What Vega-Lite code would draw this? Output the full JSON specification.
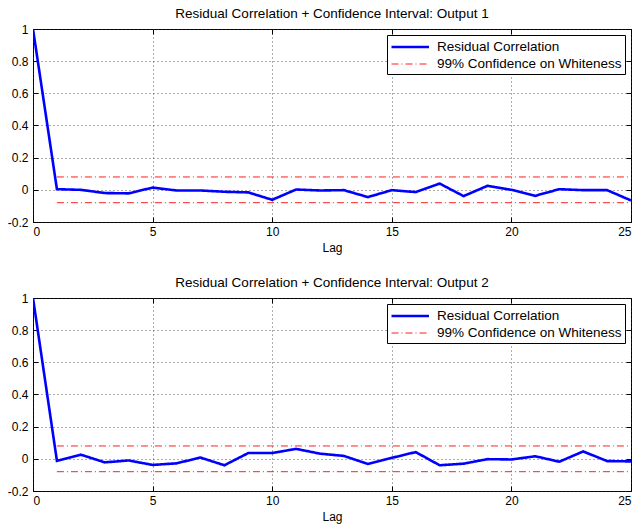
{
  "$schema": "https://vega.github.io/schema/vega-lite/v6.json",
  "background": "white",
  "padding": {"left": 6, "top": 6, "right": 6, "bottom": 2},
  "spacing": 21,
  "config": {
    "font": "Liberation Sans",
    "view": {"stroke": "black", "strokeWidth": 1},
    "axis": {"domain": false, "labelColor": "black", "titleColor": "black", "labelFontSize": 12, "titleFontSize": 12, "titleFontWeight": "normal", "tickColor": "black", "gridColor": "#333", "gridDash": [1, 3], "gridOpacity": 0.8},
    "title": {"fontSize": 13.5, "fontWeight": "normal", "color": "black", "offset": 3, "frame": "group", "anchor": "middle"},
    "legend": {"orient": "top-right", "offset": 6, "strokeColor": "black", "fillColor": "white", "padding": 3, "labelFontSize": 13.5, "labelColor": "black", "symbolType": "M-1,0H4", "symbolSize": 225, "labelOffset": 29, "labelLimit": 400, "rowPadding": 2, "cornerRadius": 0}
  },
  "datasets": {
    "out1": [
      {"lag": 0, "value": 1, "series": "Residual Correlation", "bound": "r"},
      {"lag": 1, "value": 0.004, "series": "Residual Correlation", "bound": "r"},
      {"lag": 2, "value": 0.0, "series": "Residual Correlation", "bound": "r"},
      {"lag": 3, "value": -0.02, "series": "Residual Correlation", "bound": "r"},
      {"lag": 4, "value": -0.022, "series": "Residual Correlation", "bound": "r"},
      {"lag": 5, "value": 0.014, "series": "Residual Correlation", "bound": "r"},
      {"lag": 6, "value": -0.004, "series": "Residual Correlation", "bound": "r"},
      {"lag": 7, "value": -0.004, "series": "Residual Correlation", "bound": "r"},
      {"lag": 8, "value": -0.012, "series": "Residual Correlation", "bound": "r"},
      {"lag": 9, "value": -0.016, "series": "Residual Correlation", "bound": "r"},
      {"lag": 10, "value": -0.062, "series": "Residual Correlation", "bound": "r"},
      {"lag": 11, "value": 0.002, "series": "Residual Correlation", "bound": "r"},
      {"lag": 12, "value": -0.004, "series": "Residual Correlation", "bound": "r"},
      {"lag": 13, "value": -0.002, "series": "Residual Correlation", "bound": "r"},
      {"lag": 14, "value": -0.045, "series": "Residual Correlation", "bound": "r"},
      {"lag": 15, "value": -0.002, "series": "Residual Correlation", "bound": "r"},
      {"lag": 16, "value": -0.014, "series": "Residual Correlation", "bound": "r"},
      {"lag": 17, "value": 0.039, "series": "Residual Correlation", "bound": "r"},
      {"lag": 18, "value": -0.039, "series": "Residual Correlation", "bound": "r"},
      {"lag": 19, "value": 0.025, "series": "Residual Correlation", "bound": "r"},
      {"lag": 20, "value": 0.0, "series": "Residual Correlation", "bound": "r"},
      {"lag": 21, "value": -0.037, "series": "Residual Correlation", "bound": "r"},
      {"lag": 22, "value": 0.004, "series": "Residual Correlation", "bound": "r"},
      {"lag": 23, "value": -0.002, "series": "Residual Correlation", "bound": "r"},
      {"lag": 24, "value": -0.002, "series": "Residual Correlation", "bound": "r"},
      {"lag": 25, "value": -0.066, "series": "Residual Correlation", "bound": "r"},
      {"lag": 1, "value": 0.08, "series": "99% Confidence on Whiteness", "bound": "upper"},
      {"lag": 25, "value": 0.08, "series": "99% Confidence on Whiteness", "bound": "upper"},
      {"lag": 1, "value": -0.08, "series": "99% Confidence on Whiteness", "bound": "lower"},
      {"lag": 25, "value": -0.08, "series": "99% Confidence on Whiteness", "bound": "lower"}
    ],
    "out2": [
      {"lag": 0, "value": 1, "series": "Residual Correlation", "bound": "r"},
      {"lag": 1, "value": -0.012, "series": "Residual Correlation", "bound": "r"},
      {"lag": 2, "value": 0.026, "series": "Residual Correlation", "bound": "r"},
      {"lag": 3, "value": -0.022, "series": "Residual Correlation", "bound": "r"},
      {"lag": 4, "value": -0.01, "series": "Residual Correlation", "bound": "r"},
      {"lag": 5, "value": -0.038, "series": "Residual Correlation", "bound": "r"},
      {"lag": 6, "value": -0.028, "series": "Residual Correlation", "bound": "r"},
      {"lag": 7, "value": 0.008, "series": "Residual Correlation", "bound": "r"},
      {"lag": 8, "value": -0.04, "series": "Residual Correlation", "bound": "r"},
      {"lag": 9, "value": 0.036, "series": "Residual Correlation", "bound": "r"},
      {"lag": 10, "value": 0.036, "series": "Residual Correlation", "bound": "r"},
      {"lag": 11, "value": 0.062, "series": "Residual Correlation", "bound": "r"},
      {"lag": 12, "value": 0.032, "series": "Residual Correlation", "bound": "r"},
      {"lag": 13, "value": 0.018, "series": "Residual Correlation", "bound": "r"},
      {"lag": 14, "value": -0.032, "series": "Residual Correlation", "bound": "r"},
      {"lag": 15, "value": 0.006, "series": "Residual Correlation", "bound": "r"},
      {"lag": 16, "value": 0.042, "series": "Residual Correlation", "bound": "r"},
      {"lag": 17, "value": -0.04, "series": "Residual Correlation", "bound": "r"},
      {"lag": 18, "value": -0.03, "series": "Residual Correlation", "bound": "r"},
      {"lag": 19, "value": -0.002, "series": "Residual Correlation", "bound": "r"},
      {"lag": 20, "value": -0.004, "series": "Residual Correlation", "bound": "r"},
      {"lag": 21, "value": 0.016, "series": "Residual Correlation", "bound": "r"},
      {"lag": 22, "value": -0.018, "series": "Residual Correlation", "bound": "r"},
      {"lag": 23, "value": 0.046, "series": "Residual Correlation", "bound": "r"},
      {"lag": 24, "value": -0.014, "series": "Residual Correlation", "bound": "r"},
      {"lag": 25, "value": -0.016, "series": "Residual Correlation", "bound": "r"},
      {"lag": 1, "value": 0.08, "series": "99% Confidence on Whiteness", "bound": "upper"},
      {"lag": 25, "value": 0.08, "series": "99% Confidence on Whiteness", "bound": "upper"},
      {"lag": 1, "value": -0.08, "series": "99% Confidence on Whiteness", "bound": "lower"},
      {"lag": 25, "value": -0.08, "series": "99% Confidence on Whiteness", "bound": "lower"}
    ]
  },
  "resolve": {"scale": {"color": "independent", "strokeDash": "independent", "strokeWidth": "independent"}},
  "vconcat": [
    {
      "title": "Residual Correlation + Confidence Interval: Output 1",
      "width": 598,
      "height": 193,
      "data": {"name": "out1"},
      "layer": [
        {
          "mark": {"type": "line", "clip": true},
          "encoding": {
            "x": {"field": "lag", "type": "quantitative", "scale": {"domain": [0, 25], "nice": false, "zero": false}, "axis": {"orient": "bottom", "values": [0, 5, 10, 15, 20, 25], "title": "Lag", "tickSize": -5, "labelPadding": 9, "titlePadding": 5, "grid": true}},
            "y": {"field": "value", "type": "quantitative", "scale": {"domain": [-0.2, 1], "nice": false, "zero": false}, "axis": {"orient": "left", "values": [-0.2, 0, 0.2, 0.4, 0.6, 0.8, 1], "title": null, "tickSize": -5, "labelPadding": 10, "grid": true, "labelExpr": "datum.value < 0 ? '-' + format(-datum.value, '~g') : format(datum.value, '~g')"}},
            "color": {"field": "series", "type": "nominal", "title": null, "scale": {"domain": ["Residual Correlation", "99% Confidence on Whiteness"], "range": ["#0000ff", "#ff2020"]}},
            "strokeDash": {"field": "series", "type": "nominal", "title": null, "scale": {"domain": ["Residual Correlation", "99% Confidence on Whiteness"], "range": [[1, 0], [7, 3, 1, 3]]}},
            "strokeWidth": {"field": "series", "type": "nominal", "title": null, "scale": {"domain": ["Residual Correlation", "99% Confidence on Whiteness"], "range": [2.6, 1]}},
            "detail": {"field": "bound", "type": "nominal"}
          }
        },
        {
          "mark": {"type": "line", "opacity": 0},
          "encoding": {
            "x": {"field": "lag", "type": "quantitative", "axis": {"orient": "top", "values": [0, 5, 10, 15, 20, 25], "title": null, "labels": false, "tickSize": -5, "grid": false}},
            "y": {"field": "value", "type": "quantitative", "axis": {"orient": "right", "values": [-0.2, 0, 0.2, 0.4, 0.6, 0.8, 1], "title": null, "labels": false, "tickSize": -5, "grid": false}}
          }
        }
      ],
      "resolve": {"axis": {"x": "independent", "y": "independent"}}
    },
    {
      "title": "Residual Correlation + Confidence Interval: Output 2",
      "width": 598,
      "height": 193,
      "data": {"name": "out2"},
      "layer": [
        {
          "mark": {"type": "line", "clip": true},
          "encoding": {
            "x": {"field": "lag", "type": "quantitative", "scale": {"domain": [0, 25], "nice": false, "zero": false}, "axis": {"orient": "bottom", "values": [0, 5, 10, 15, 20, 25], "title": "Lag", "tickSize": -5, "labelPadding": 9, "titlePadding": 5, "grid": true}},
            "y": {"field": "value", "type": "quantitative", "scale": {"domain": [-0.2, 1], "nice": false, "zero": false}, "axis": {"orient": "left", "values": [-0.2, 0, 0.2, 0.4, 0.6, 0.8, 1], "title": null, "tickSize": -5, "labelPadding": 10, "grid": true, "labelExpr": "datum.value < 0 ? '-' + format(-datum.value, '~g') : format(datum.value, '~g')"}},
            "color": {"field": "series", "type": "nominal", "title": null, "scale": {"domain": ["Residual Correlation", "99% Confidence on Whiteness"], "range": ["#0000ff", "#ff2020"]}},
            "strokeDash": {"field": "series", "type": "nominal", "title": null, "scale": {"domain": ["Residual Correlation", "99% Confidence on Whiteness"], "range": [[1, 0], [7, 3, 1, 3]]}},
            "strokeWidth": {"field": "series", "type": "nominal", "title": null, "scale": {"domain": ["Residual Correlation", "99% Confidence on Whiteness"], "range": [2.6, 1]}},
            "detail": {"field": "bound", "type": "nominal"}
          }
        },
        {
          "mark": {"type": "line", "opacity": 0},
          "encoding": {
            "x": {"field": "lag", "type": "quantitative", "axis": {"orient": "top", "values": [0, 5, 10, 15, 20, 25], "title": null, "labels": false, "tickSize": -5, "grid": false}},
            "y": {"field": "value", "type": "quantitative", "axis": {"orient": "right", "values": [-0.2, 0, 0.2, 0.4, 0.6, 0.8, 1], "title": null, "labels": false, "tickSize": -5, "grid": false}}
          }
        }
      ],
      "resolve": {"axis": {"x": "independent", "y": "independent"}}
    }
  ]
}
